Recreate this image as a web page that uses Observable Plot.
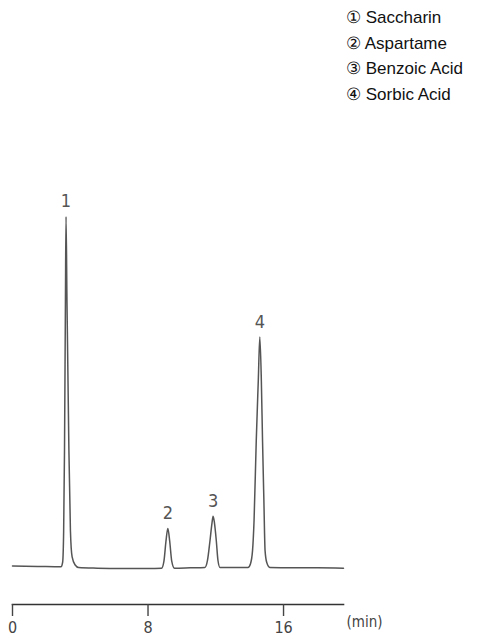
<!DOCTYPE html>
<html>
<head>
<meta charset="utf-8">
<script src="https://cdn.jsdelivr.net/npm/d3@7"></script>
<script src="https://cdn.jsdelivr.net/npm/@observablehq/plot@0.6"></script>
<style>
  html, body { margin: 0; padding: 0; background: #fff; }
  #wrap { position: relative; width: 500px; height: 637px; }
  #legend { position: absolute; left: 346px; top: 5px; font-family: "Liberation Sans", Arial, sans-serif; font-size: 17px; line-height: 25.5px; color: #111; white-space: nowrap; }
  #chart { position: absolute; left: 0; top: 0; }
</style>
</head>
<body>
<div id="wrap">
  <div id="chart"></div>
  <div id="legend"></div>
</div>
<script>
// Legend entries
const legendMarks = ["①", "②", "③", "④"];
const compounds = ["Saccharin", "Aspartame", "Benzoic Acid", "Sorbic Acid"];

// Peaks: number, retention time (min), apex signal (relative)
const peakLabels = ["1", "2", "3", "4"];
const peakTimes = [3.16, 9.17, 11.84, 14.60];
const peakHeights = [100, 11.1, 14.6, 65.7];

// Axis ticks (min)
const timeTicks = [0, 8, 16];

// Chromatogram trace: time (min) and detector signal (relative)
const traceTime = [
  0, 1.5, 2.86,
  2.96, 3.02, 3.07, 3.125, 3.16, 3.215, 3.33, 3.42, 3.52, 3.70,
  3.90, 5.0, 6.5, 8.0, 8.80,
  8.94, 9.06, 9.17, 9.28, 9.40,
  9.56, 10.5, 11.36,
  11.51, 11.66, 11.78, 11.84, 11.92, 12.03, 12.13,
  12.25, 13.2, 13.90,
  14.05, 14.17, 14.26, 14.39, 14.51, 14.60, 14.69, 14.76, 14.84, 14.91, 15.01,
  15.19, 16.5, 18.0, 19.54
];
const traceSignal = [
  0.4, 0.3, 0.2,
  1.5, 10.5, 33.3, 76, 100, 76, 33.3, 10.5, 3.0, 0.7,
  0.0, -0.2, -0.3, -0.3, -0.2,
  1.8, 7.5, 11.1, 7.5, 1.8,
  -0.2, -0.1, 0.0,
  2.0, 7.7, 12.8, 14.6, 12.8, 7.7, 2.0,
  0.0, 0.0, 0.0,
  1.1, 4.8, 13.4, 36.2, 53.3, 65.7, 53.3, 36.2, 19.1, 4.8, 1.4,
  0.0, -0.1, -0.1, -0.2
];

const trace = traceTime.map((t, i) => ({t, s: traceSignal[i]}));
const peaks = peakLabels.map((label, i) => ({label, t: peakTimes[i], s: peakHeights[i]}));

const narrow = "'Liberation Sans Narrow', 'DejaVu Sans Condensed', 'Roboto', sans-serif";

const chart = Plot.plot({
  width: 500,
  height: 637,
  marginLeft: 12,
  marginRight: 157,
  marginTop: 216,
  marginBottom: 33,
  style: { fontFamily: narrow, background: "transparent", color: "#444" },
  x: { domain: [0, 19.54] },
  y: { domain: [-10.54, 100], axis: null },
  marks: [
    Plot.frame({ anchor: "bottom", stroke: "#333", strokeWidth: 1.6 }),
    Plot.axisX({ ticks: timeTicks, tickSize: 12, tickPadding: 5, tickFormat: d => String(d), fontSize: 16, stroke: "#444", strokeWidth: 1.4, fill: "#444", label: null }),
    Plot.text(["(min)"], { frameAnchor: "bottom-right", dx: 3, dy: 22, textAnchor: "start", fontSize: 15, fill: "#444" }),
    Plot.line(trace, { x: "t", y: "s", stroke: "#555", strokeWidth: 1.5, curve: "monotone-x" }),
    Plot.text(peaks, { x: "t", y: "s", text: "label", dy: -15, fontSize: 18, fill: "#555" })
  ]
});
document.getElementById("chart").appendChild(chart);

const legend = document.getElementById("legend");
compounds.forEach((name, i) => {
  const row = document.createElement("div");
  row.textContent = legendMarks[i] + " " + name;
  legend.appendChild(row);
});
</script>
</body>
</html>
